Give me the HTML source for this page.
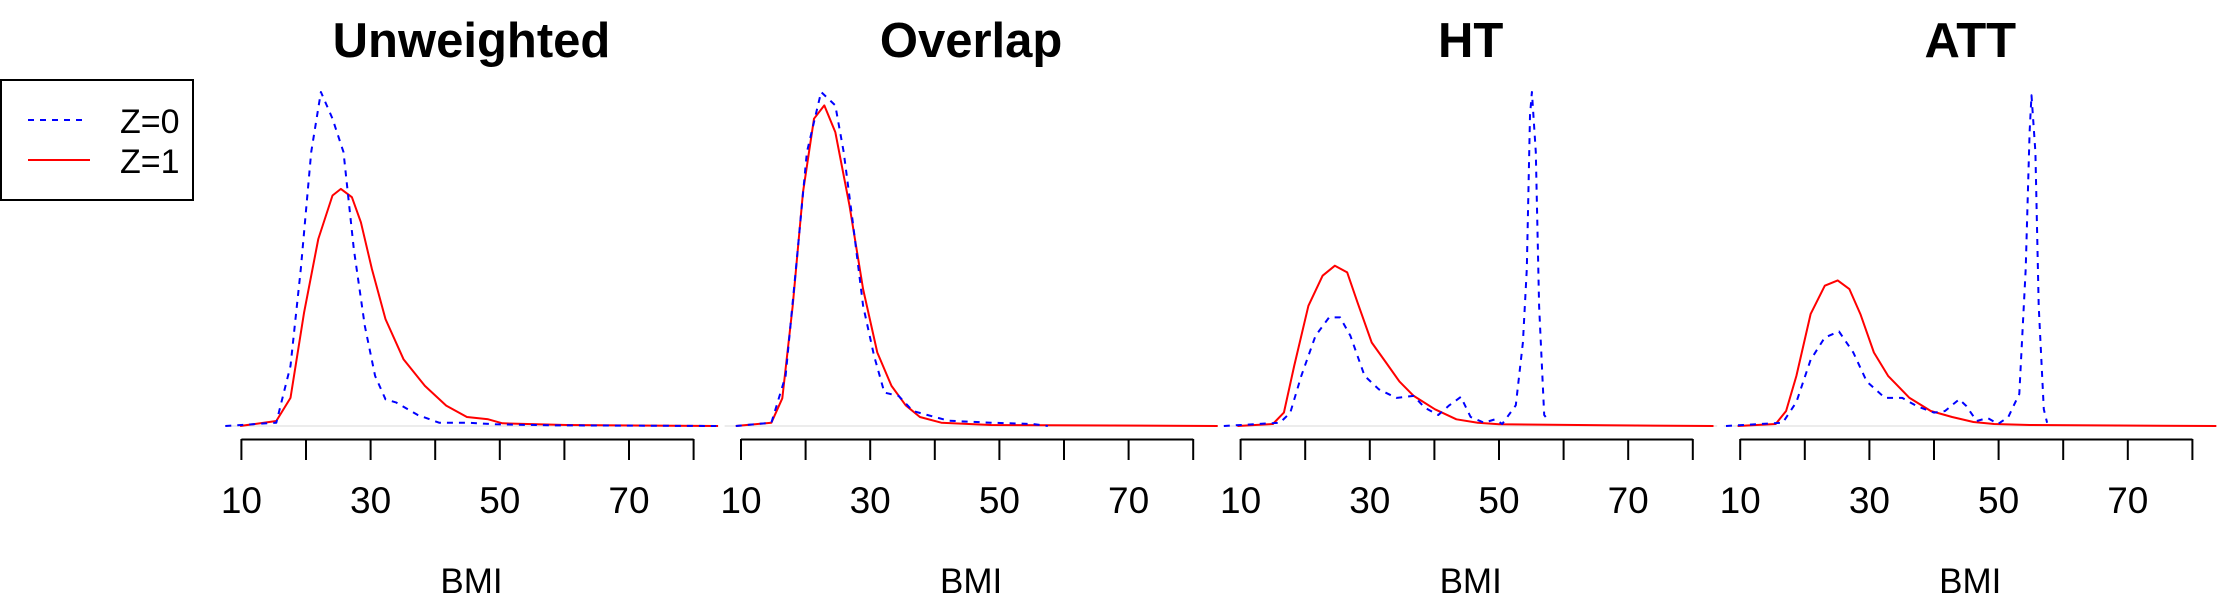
<!DOCTYPE html>
<html><head><meta charset="utf-8"><style>
html,body{margin:0;padding:0;background:#fff;}
svg{display:block;font-family:"Liberation Sans",sans-serif;}
</style></head><body>
<svg id="chart" width="2220" height="600" viewBox="0 0 2220 600" xmlns="http://www.w3.org/2000/svg">
<g>
<rect x="1" y="80" width="192" height="120" fill="#fff" stroke="#000" stroke-width="2"/>
<line x1="28" y1="120" x2="88" y2="120" stroke="#0000ff" stroke-width="2" stroke-dasharray="6,6"/>
<text x="120" y="133" font-size="34">Z=0</text>
<line x1="28" y1="160" x2="90" y2="160" stroke="#ff0000" stroke-width="2"/>
<text x="120" y="173" font-size="34">Z=1</text>
</g>
</svg>
<script>
const panelTitles=["Unweighted","Overlap","HT","ATT"];
const tickValues=[10,20,30,40,50,60,70,80];
const tickLabels=["10","30","50","70"];
const xLabel="BMI";
// BMI / density pairs per panel
const unwZ0x=[7.5,15.4,17.6,19.2,20.8,22.3,24.1,25.8,27.4,29.1,30.7,32.3,34,37.3,40.6,45,49.3,58,83.5];
const unwZ0y=[0,0.001,0.018,0.047,0.082,0.100,0.092,0.082,0.053,0.030,0.015,0.008,0.007,0.0033,0.001,0.001,0.0005,0.0002,0];
const unwZ1x=[9.8,15.4,17.6,19.7,21.9,24.1,25.4,27.1,28.5,30.2,32.3,35.1,38.4,41.7,44.9,48.2,50.4,60.3,83.8];
const unwZ1y=[0,0.0015,0.0084,0.034,0.056,0.069,0.071,0.0685,0.061,0.047,0.032,0.020,0.012,0.0061,0.0027,0.002,0.0008,0.0003,0];
const ovZ0x=[9.2,14.7,16.9,18.5,20.2,22.4,24.6,25.9,27.3,28.9,30.6,32.2,34.4,36.6,42.1,48.7,55.2,57.5];
const ovZ0y=[0,0.001,0.015,0.047,0.082,0.100,0.096,0.082,0.061,0.036,0.021,0.010,0.009,0.0045,0.0016,0.001,0.0006,0];
const ovZ1x=[9.2,14.7,16.4,18,19.6,21.3,22.9,24.6,26.8,28.9,31.1,33.3,35.5,37.7,41,48.7,83.8];
const ovZ1y=[0,0.001,0.0083,0.036,0.070,0.092,0.096,0.088,0.066,0.041,0.022,0.012,0.0062,0.0027,0.001,0.0003,0];
const htZ0x=[7.4,16.1,17.7,19.4,21.6,23.7,25.4,27,29.2,31.4,34.1,36.8,38.5,40.6,42.3,44.1,45.6,47.7,49.4,50.5,52.6,53.7,54.3,54.8,55.1,55.7,56.2,57,57.5];
const htZ0y=[0,0.001,0.004,0.015,0.027,0.0325,0.0325,0.027,0.015,0.011,0.0084,0.009,0.0055,0.0033,0.0062,0.0087,0.0027,0.001,0.002,0.0006,0.0062,0.025,0.047,0.093,0.100,0.082,0.036,0.0033,0.002];
const htZ1x=[9.5,15,16.7,18.3,20.5,22.7,24.6,26.5,28.1,30.3,32.5,34.6,36.8,40.1,43.4,46.7,50,66.3,83.2];
const htZ1y=[0,0.0006,0.004,0.018,0.036,0.045,0.048,0.046,0.037,0.025,0.019,0.0133,0.009,0.005,0.002,0.001,0.0005,0.0002,0];
const attZ0x=[7.8,16.6,18.7,20.9,23.1,25.3,27.5,29.6,32.4,35.1,37.3,40,41.7,43.9,45,46.6,48.3,49.9,51.5,53.2,54.2,54.8,55.1,55.7,56.2,57,57.5];
const attZ0y=[0,0.001,0.0072,0.0198,0.0265,0.0283,0.022,0.0133,0.0084,0.0084,0.006,0.004,0.0045,0.008,0.006,0.0015,0.0024,0.0006,0.0027,0.0096,0.047,0.088,0.099,0.082,0.036,0.005,0.001];
const attZ1x=[9.6,15.5,17.1,18.7,20.9,23.1,25.1,26.9,28.6,30.7,32.9,36.2,39.5,42.8,46.1,49.3,54.8,83.7];
const attZ1y=[0,0.0006,0.0045,0.015,0.0335,0.042,0.0436,0.041,0.0335,0.022,0.015,0.0084,0.0045,0.0027,0.0012,0.0006,0.0003,0];

const panels=[[unwZ0x,unwZ0y,unwZ1x,unwZ1y],[ovZ0x,ovZ0y,ovZ1x,ovZ1y],[htZ0x,htZ0y,htZ1x,htZ1y],[attZ0x,attZ0y,attZ1x,attZ1y]];
const svg=document.getElementById('chart');
const NS='http://www.w3.org/2000/svg';
function mk(t,a){const e=document.createElementNS(NS,t);for(const k in a)e.setAttribute(k,a[k]);return e;}
const panelW=499.6, x10=241.4, pxPerUnit=6.46, base=426, yK=3340;
function xs(i,b){return i*panelW+x10+(b-10)*pxPerUnit;}
function ys(d){return base-d*yK;}
panels.forEach((p,i)=>{
  const cx=i*panelW+471.5;
  const g=mk('g',{});
  
  
  svg.appendChild(g);
  const t=mk('text',{x:cx,y:57,'font-size':'49','font-weight':'bold','text-anchor':'middle'});
  
  
  t.textContent=panelTitles[i];g.appendChild(t);
  const bl=mk('line',{x1:i*panelW+225,x2:i*panelW+718,y1:base,y2:base,stroke:'#e6e6e6','stroke-width':1.5});
  
  
  g.appendChild(bl);
  const ax=mk('line',{x1:xs(i,10),x2:xs(i,80),y1:439.5,y2:439.5,stroke:'#000','stroke-width':2});
  
  
  g.appendChild(ax);
  tickValues.forEach(v=>{
    const tk=mk('line',{x1:xs(i,v),x2:xs(i,v),y1:439,y2:460,stroke:'#000','stroke-width':2});
    
    
    g.appendChild(tk);
  });
  tickLabels.forEach(l=>{
    const tl=mk('text',{x:xs(i,+l),y:513,'font-size':'37','text-anchor':'middle'});
    
    
    tl.textContent=l;g.appendChild(tl);
  });
  const xl=mk('text',{x:cx,y:593,'font-size':'35','text-anchor':'middle'});
  
  
  xl.textContent=xLabel;g.appendChild(xl);
  const series=[[p[2],p[3],'#ff0000',null,'z1-density'],[p[0],p[1],'#0000ff','6,6','z0-density']];
  series.forEach(s=>{
    const pts=s[0].map((b,j)=>xs(i,b).toFixed(1)+','+ys(s[1][j]).toFixed(1)).join(' ');
    const pl=mk('polyline',{points:pts,fill:'none',stroke:s[2],'stroke-width':2,'stroke-linejoin':'round'});
    if(s[3])pl.setAttribute('stroke-dasharray',s[3]);
    
    
    g.appendChild(pl);
  });
});
</script>
</body></html>
